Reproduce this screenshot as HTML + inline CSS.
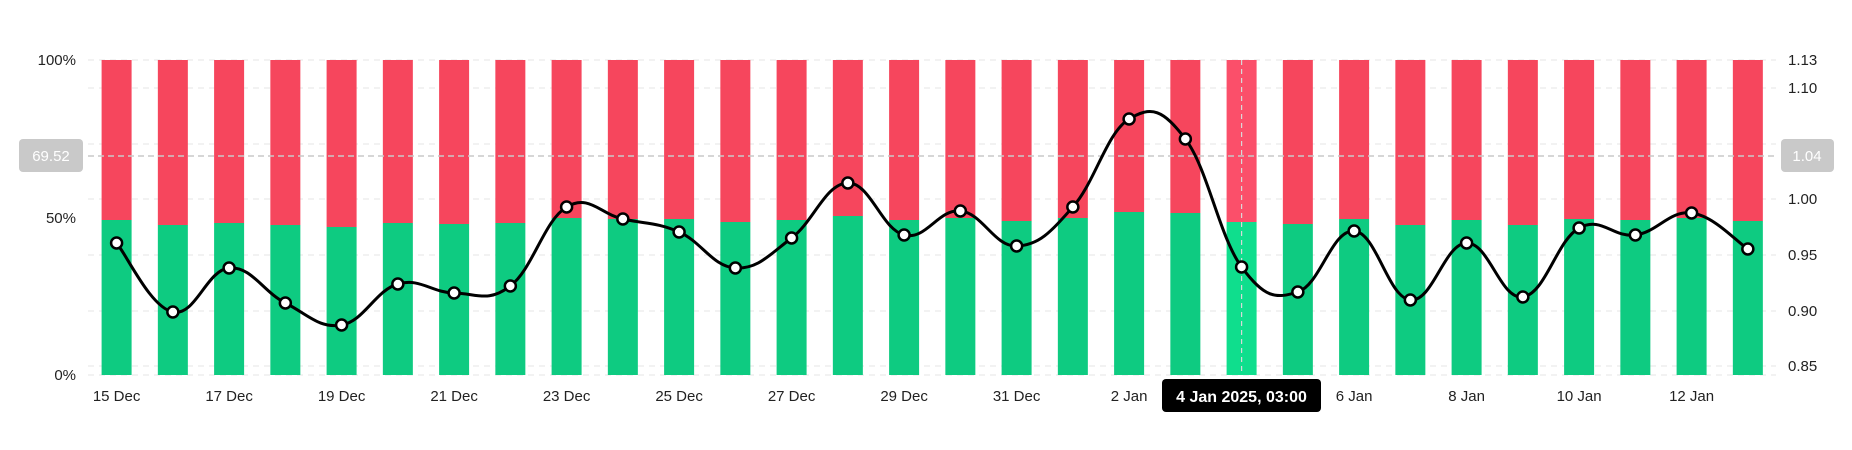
<!DOCTYPE html>
<html><head><meta charset="utf-8"><style>
html,body{margin:0;padding:0;background:#fff;}
svg{display:block;font-family:"Liberation Sans",sans-serif;}
</style></head><body>
<svg id="c" width="1852" height="450" viewBox="0 0 1852 450" xmlns="http://www.w3.org/2000/svg">
<g id="grid" stroke="#e6e6e6" stroke-width="1" stroke-dasharray="6,5"></g>
<g id="bars"></g>
<line x1="88" y1="156" x2="1776" y2="156" stroke="#c8c8c8" stroke-width="1.5" stroke-dasharray="6,4"/>
<line x1="1241.6" y1="60" x2="1241.6" y2="375" stroke="#d8d8d8" stroke-width="1.2" stroke-dasharray="5,4"/>
<path id="ln" fill="none" stroke="#000" stroke-width="3"/>
<g id="pts" fill="#fff" stroke="#000" stroke-width="2.5"></g>
<g font-size="15" fill="#222" text-anchor="end">
<text x="76" y="65">100%</text><text x="76" y="223">50%</text><text x="76" y="380">0%</text>
</g>
<g font-size="15" fill="#222" text-anchor="start">
<text x="1788" y="65">1.13</text><text x="1788" y="93">1.10</text><text x="1788" y="149">1.05</text>
<text x="1788" y="204">1.00</text><text x="1788" y="260">0.95</text><text x="1788" y="316">0.90</text><text x="1788" y="371">0.85</text>
</g>
<rect x="19" y="139" width="64" height="33" rx="4" fill="#c9c9c9"/>
<text x="51" y="161" font-size="15" fill="#fff" text-anchor="middle">69.52</text>
<rect x="1781" y="139" width="53" height="33" rx="4" fill="#c9c9c9"/>
<text x="1807" y="161" font-size="15" fill="#fff" text-anchor="middle">1.04</text>
<g font-size="15" fill="#222" text-anchor="middle">
<text x="116.6" y="401">15 Dec</text><text x="229.1" y="401">17 Dec</text><text x="341.6" y="401">19 Dec</text>
<text x="454.1" y="401">21 Dec</text><text x="566.6" y="401">23 Dec</text><text x="679.1" y="401">25 Dec</text>
<text x="791.6" y="401">27 Dec</text><text x="904.1" y="401">29 Dec</text><text x="1016.6" y="401">31 Dec</text>
<text x="1129.1" y="401">2 Jan</text><text x="1354.1" y="401">6 Jan</text>
<text x="1466.6" y="401">8 Jan</text><text x="1579.1" y="401">10 Jan</text><text x="1691.6" y="401">12 Jan</text>
</g>
<rect x="1162" y="379" width="159" height="33" rx="4" fill="#000"/>
<text x="1241.5" y="402" font-size="16" font-weight="bold" fill="#fff" text-anchor="middle">4 Jan 2025, 03:00</text>
</svg>
<script>
(function(){
var ns="http://www.w3.org/2000/svg";
function el(t,a,p){var e=document.createElementNS(ns,t);for(var k in a)e.setAttribute(k,a[k]);p.appendChild(e);return e;}
var grid=document.getElementById('grid');
[60,88,144,199,255,311,366,375].forEach(function(y){el('line',{x1:88,x2:1776,y1:y,y2:y},grid);});
var bars=document.getElementById('bars');
var g=[220,225,223,225,227,223,224,223,218,219,219,222,220,216,220,218,221,218,212,213,222,224,219,225,220,225,219,220,218,221];
var l=[243,312,268,303,325,284,293,286,207,219,232,268,238,183,235,211,246,207,119,139,267,292,231,300,243,297,228,235,213,249];
for(var i=0;i<30;i++){
var x=101.6+i*56.25, hl=(i==20);
el('rect',{x:x,y:60,width:30,height:g[i]-60,fill:hl?'#fb4f6a':'#f6465d'},bars);
el('rect',{x:x,y:g[i],width:30,height:375-g[i],fill:hl?'#0fde8d':'#0ecb81'},bars);
}
var P=l.map(function(y,i){return [116.6+i*56.25,y];});
var d='M'+P[0][0]+','+P[0][1];
for(var i=0;i<P.length-1;i++){
var p0=P[Math.max(0,i-1)],p1=P[i],p2=P[i+1],p3=P[Math.min(P.length-1,i+2)];
var t=0.2;
var c1=[p1[0]+(p2[0]-p0[0])*t,p1[1]+(p2[1]-p0[1])*t];
var c2=[p2[0]-(p3[0]-p1[0])*t,p2[1]-(p3[1]-p1[1])*t];
d+=' C'+c1[0]+','+c1[1]+' '+c2[0]+','+c2[1]+' '+p2[0]+','+p2[1];
}
document.getElementById('ln').setAttribute('d',d);
var pts=document.getElementById('pts');
P.forEach(function(p){el('circle',{cx:p[0],cy:p[1],r:5.5},pts);});
})();
</script>
</body></html>
